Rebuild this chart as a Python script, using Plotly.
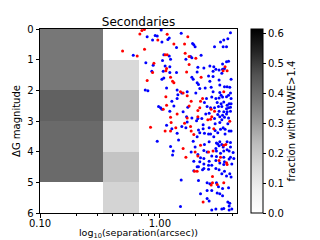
import plotly.graph_objects as go
import numpy as np

# ---- heatmap bins: fraction with RUWE>1.4 ----
sep_edges = [0.1, 0.333, 0.667]          # arcsec
dg_edges = [0, 1, 2, 3, 4, 5, 6]          # Delta G magnitude
# rows = dG bins (0-1 ... 5-6), cols = separation bins
frac = [
    [0.375, None],
    [0.375, 0.153],
    [0.425, 0.233],
    [0.405, 0.137],
    [0.405, 0.211],
    [None, 0.167],
]

# ---- scatter points (log10 separation [arcsec], Delta G) ----
red_logsep = [-0.15, -0.129, -0.167, 0.061, -0.017, 0.233, 0.206, 0.117, -0.128, 0.211,
              -0.189, 0.044, 0.061, 0.244, 0.3, -0.05, 0.244, 0.544, 0.528, 0.561,
              0.056, 0.05, 0.223, -0.061, -0.311, 0.089, 0.344, -0.106, 0.106, 0.117,
              0.172, 0.194, 0.228, 0.05, 0.356, 0.339, 0.261, 0.056, 0.244, 0.028,
              0.333, 0.317, 0.428, 0.456, 0.144, 0.089, 0.228, 0.317, 0.433, 0.423,
              0.094, 0.206, 0.4, 0.583, -0.078, 0.133, 0.256, 0.45, 0.044, 0.089,
              0.261, 0.283, 0.339, 0.533, 0.55, 0.194, 0.294, 0.406, 0.444, 0.217,
              0.317, 0.506, 0.494, 0.556, 0.561, 0.289, 0.311, 0.439, 0.428, 0.439,
              0.478, 0.361, 0.533, 0.533]
red_dG = [0.05, 0.02, 0.16, 0.17, 0.36, 0.25, 0.49, 0.49, 0.66, 0.79,
          0.88, 0.84, 0.84, 0.9, 0.95, 1.12, 1.16, 1.23, 1.36, 1.36,
          1.29, 1.36, 1.40, 1.42, 0.72, 1.57, 1.57, 1.68, 1.70, 1.75,
          2.05, 2.09, 2.18, 2.21, 2.27, 2.36, 2.36, 2.49, 2.51, 2.62,
          2.57, 2.66, 2.62, 2.68, 2.77, 2.88, 2.90, 2.86, 2.86, 2.94,
          3.05, 3.07, 2.96, 3.01, 3.20, 3.22, 3.18, 3.25, 3.33, 3.33,
          3.33, 3.44, 3.79, 3.79, 3.77, 3.90, 4.01, 4.01, 3.98, 4.18,
          4.14, 4.18, 4.29, 4.36, 4.42, 4.64, 4.64, 4.81, 5.09, 5.01,
          5.07, 5.64, 5.01, 2.05]

blue_logsep = [0.011, -0.106, -0.039, -0.022, -0.061, 0.017, 0.078, 0.067, 0.178, 0.589,
               0.567, 0.533, 0.506, 0.273, 0.283, 0.294, 0.139, 0.456, 0.528, 0.556,
               -0.222, 0.033, 0.078, 0.089, 0.022, 0.217, 0.256, 0.267, 0.344, -0.117,
               -0.056, 0.044, 0.083, 0.317, 0.367, 0.417, 0.45, 0.523, 0.556, 0.573,
               0.467, 0.494, 0.523, 0.539, 0.028, 0.083, 0.139, 0.311, 0.444, -0.067,
               0.517,
               0.033, 0.267, 0.278, 0.406, 0.444, 0.017, 0.311, 0.322, 0.417, 0.494,
               0.594, 0.333, 0.378, 0.428, 0.5, 0.539, 0.561, 0.583, -0.122, -0.1,
               0.056, 0.144, 0.183, 0.15, 0.228, 0.3, 0.444, 0.5, 0.589, 0.144,
               0.389, 0.433, 0.467, 0.494, 0.511, 0.523, 0.556, 0.573, 0.594, 0.1,
               0.372, 0.478, 0.511, 0.533, 0.561, 0.578, -0.011, 0.006, 0.017, 0.117,
               0.233, 0.394, 0.423, 0.456, 0.489, 0.517, 0.556, 0.573, 0.589, 0.594,
               0.083, 0.194, 0.494, 0.533, 0.561, 0.589, 0.383, 0.411, 0.483, 0.523,
               0.556, 0.223, 0.267, 0.317, 0.35, 0.456, 0.5, 0.539, 0.573,
               0.228, 0.306, 0.361, 0.461, 0.5, 0.517, 0.567, 0.056, 0.183, 0.1,
               0.217, 0.322, 0.361, 0.411, 0.461, 0.506, 0.528, 0.544, 0.578, 0.594,
               0.144, 0.333, 0.372, 0.406, 0.423, 0.45, 0.483, 0.544, 0.311, -0.022,
               0.156, 0.278, 0.372, 0.411, 0.472, 0.483, 0.5, 0.517, 0.561, 0.589,
               0.494, 0.528, 0.089, 0.294, 0.467, 0.589, 0.111, 0.261, 0.367, 0.394,
               0.472, 0.506, 0.533, 0.561, 0.578, 0.611, 0.106, 0.317, 0.339, 0.367,
               0.433, 0.472, 0.533, 0.589, 0.283, 0.333, 0.411, 0.467, 0.539, 0.578,
               0.617, 0.367, 0.433, 0.5, 0.533, 0.6,
               0.406, 0.311, 0.322, 0.283, 0.356, 0.367, 0.406, 0.467, 0.494, 0.539,
               0.517, 0.556, 0.594, 0.583, 0.178, 0.322, 0.394, 0.417, 0.472, 0.489,
               0.523, 0.573, 0.394, 0.433, 0.478, 0.5, 0.523, 0.339, 0.394, 0.411,
               0.567, 0.583, 0.578, 0.172, 0.433, 0.467, 0.517, 0.533, 0.578, 0.6]
blue_dG = [0.03, 0.25, 0.21, 0.23, 0.36, 0.42, 0.29, 0.34, 0.14, 0.12,
           0.32, 0.36, 0.42, 0.47, 0.51, 0.58, 0.60, 0.58, 0.58, 0.58,
           0.86, 0.84, 0.88, 0.99, 1.03, 0.99, 0.90, 0.94, 0.86, 1.10,
           1.18, 1.21, 1.23, 1.25, 1.27, 1.21, 1.23, 1.14, 1.07, 1.05,
           1.31, 1.34, 1.31, 1.29, 1.38, 1.42, 1.42, 1.40, 1.38, 1.38,
           1.44,
           1.60, 1.57, 1.64, 1.53, 1.55, 1.64, 1.75, 1.81, 1.70, 1.66,
           1.64, 1.94, 1.92, 1.90, 1.83, 1.88, 1.88, 1.90, 1.99, 2.01,
           1.92, 1.99, 2.09, 2.14, 2.05, 2.09, 2.05, 2.07, 2.09, 2.27,
           2.27, 2.22, 2.27, 2.25, 2.16, 2.22, 2.21, 2.16, 2.27, 2.36,
           2.40, 2.40, 2.44, 2.38, 2.49, 2.44, 2.53, 2.57, 2.62, 2.51,
           2.55, 2.53, 2.57, 2.57, 2.53, 2.53, 2.60, 2.57, 2.55, 2.44,
           2.68, 2.70, 2.68, 2.70, 2.70, 2.68, 2.77, 2.75, 2.79, 2.81,
           2.77, 2.86, 2.90, 2.92, 2.92, 2.92, 2.86, 2.88, 2.90,
           3.03, 2.99, 3.12, 3.09, 3.05, 2.96, 3.09, 3.14, 3.18, 3.25,
           3.22, 3.29, 3.25, 3.22, 3.31, 3.27, 3.22, 3.27, 3.33, 3.33,
           3.40, 3.38, 3.40, 3.42, 3.42, 3.51, 3.38, 3.42, 3.51, 3.66,
           3.62, 3.66, 3.77, 3.68, 3.72, 3.75, 3.68, 3.77, 3.68, 3.70,
           3.81, 3.85, 3.83, 3.85, 3.90, 3.85, 3.98, 4.01, 3.96, 4.01,
           3.98, 4.05, 3.98, 3.94, 3.98, 4.03, 4.11, 4.09, 4.20, 4.22,
           4.14, 4.16, 4.18, 4.18, 4.31, 4.33, 4.31, 4.29, 4.33, 4.24,
           4.22, 4.40, 4.44, 4.37, 4.42, 4.40,
           4.44, 4.49, 4.49, 4.62, 4.59, 4.55, 4.57, 4.55, 4.59, 4.64,
           4.72, 4.79, 4.83, 4.72, 4.92, 4.94, 5.01, 5.05, 5.01, 5.14,
           5.20, 5.18, 5.27, 5.27, 5.35, 5.37, 5.44, 5.37, 5.53, 5.61,
           5.64, 5.68, 5.77, 5.79, 5.90, 5.87, 5.87, 5.85, 5.90, 5.87]

cbar_ticks = [0.0, 0.1, 0.2, 0.3, 0.4, 0.5, 0.6]
x_major = [0.1, 1.0]
x_major_text = ["0.10", "1.00"]
x_minor = [0.2, 0.3, 0.4, 0.5, 0.6, 0.7, 0.8, 0.9, 2, 3, 4]

greys = [[0.0, "#ffffff"], [0.125, "#f0f0f0"], [0.25, "#d9d9d9"], [0.375, "#bdbdbd"],
         [0.5, "#969696"], [0.625, "#737373"], [0.75, "#525252"], [0.875, "#252525"],
         [1.0, "#000000"]]

FONT = "DejaVu Sans"
fig = go.Figure()
fig.add_trace(go.Heatmap(
    x=sep_edges, y=dg_edges, z=frac, colorscale=greys, zmin=0, zmax=0.614,
    hoverongaps=False,
    colorbar=dict(
        x=1.071, xanchor="left", xpad=0, y=0.5, yanchor="middle", len=1, lenmode="fraction",
        thickness=12, ypad=0, outlinecolor="black", outlinewidth=1,
        tickvals=cbar_ticks, ticktext=[f"{v:.1f}" for v in cbar_ticks],
        ticks="outside", ticklen=3, tickcolor="black",
        tickfont=dict(family=FONT, size=10, color="black"),
        title=dict(text="fraction with RUWE>1.4", side="right",
                   font=dict(family=FONT, size=10, color="black")),
    ),
))
fig.add_trace(go.Scatter(
    x=[10 ** v for v in blue_logsep], y=blue_dG, mode="markers",
    marker=dict(color="blue", size=3, line=dict(width=0)), showlegend=False))
fig.add_trace(go.Scatter(
    x=[10 ** v for v in red_logsep], y=red_dG, mode="markers",
    marker=dict(color="red", size=3, line=dict(width=0)), showlegend=False))

# the page body has an 8px margin, so the figure is drawn 8px right and down
fig.update_layout(
    width=312, height=232,
    margin=dict(l=32, r=83, t=21, b=27, autoexpand=False),
    paper_bgcolor="white", plot_bgcolor="white",
    font=dict(family=FONT, size=10, color="black"),
    title=dict(text="Secondaries", x=0.5, xref="paper", xanchor="center",
               y=1, yref="paper", yanchor="bottom", pad=dict(b=3),
               font=dict(family=FONT, size=12, color="black")),
    xaxis=dict(type="log", range=[np.log10(0.1), np.log10(4.4)],
               tickvals=x_major, ticktext=x_major_text,
               ticks="outside", ticklen=3.5, tickcolor="black", ticklabelstandoff=-3,
               minor=dict(tickvals=x_minor, ticks="outside", ticklen=2, tickcolor="black"),
               showgrid=False, zeroline=False, automargin=False,
               showline=True, mirror=True, linecolor="black", linewidth=1,
               title=dict(text="log<sub>10</sub>(separation(arcsec))", standoff=5,
                          font=dict(family=FONT, size=9.5))),
    yaxis=dict(range=[6, 0], tickvals=[0, 1, 2, 3, 4, 5, 6],
               ticks="outside", ticklen=3.5, tickcolor="black",
               showgrid=False, zeroline=False, automargin=False,
               showline=True, mirror=True, linecolor="black", linewidth=1,
               title=dict(text="ΔG magnitude", standoff=4,
                          font=dict(family=FONT, size=10))),
)
fig.write_html("out.html")
